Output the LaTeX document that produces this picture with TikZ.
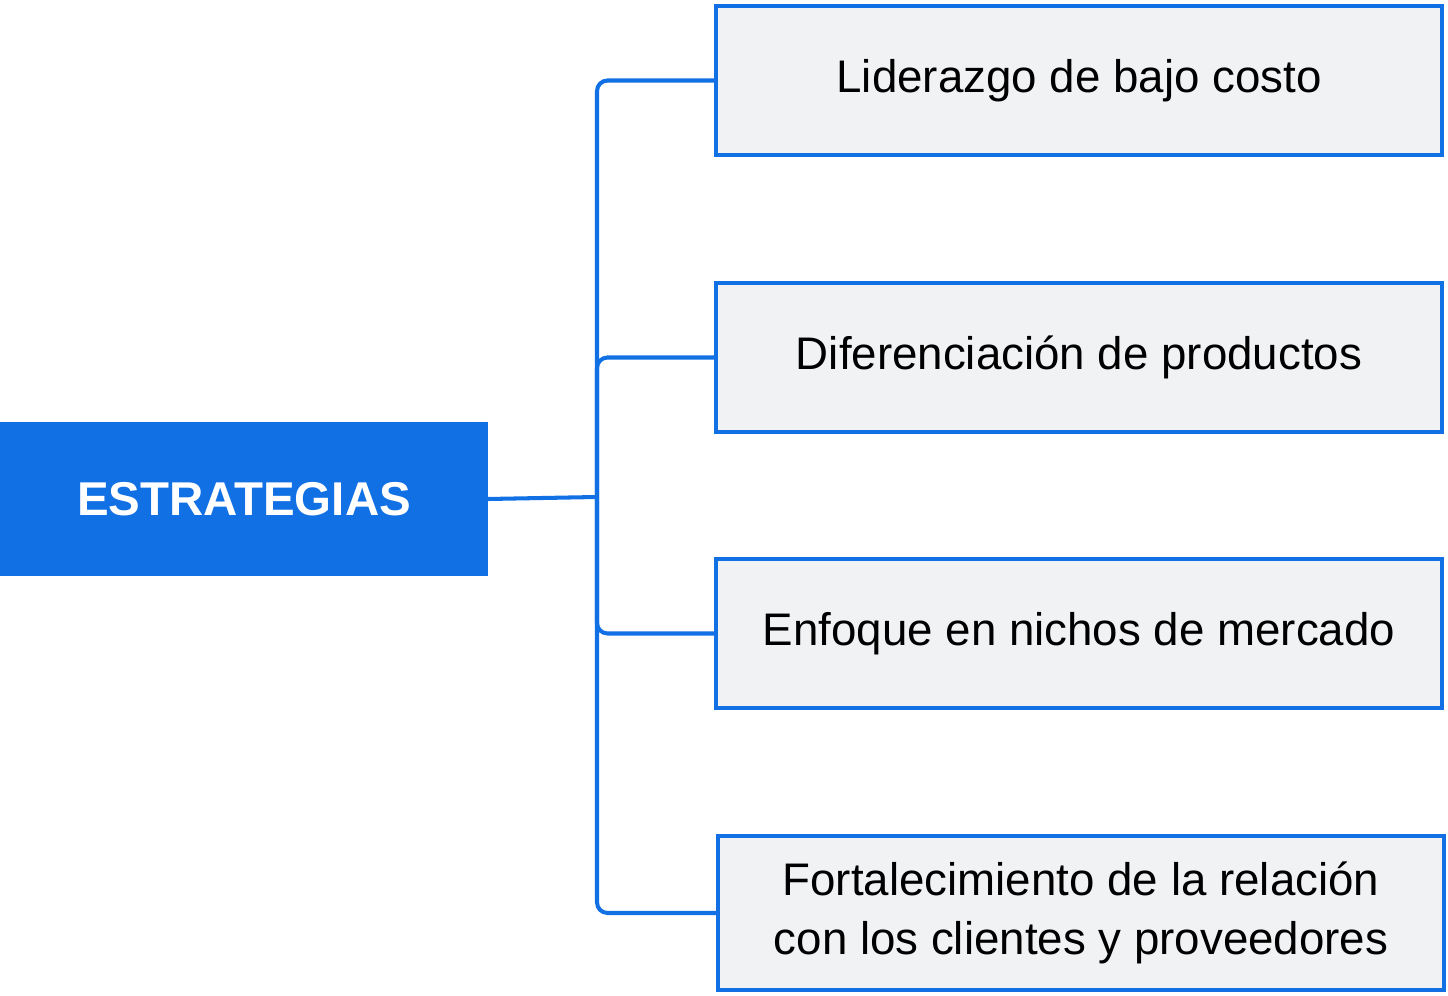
\documentclass[tikz,border=0pt]{standalone}
\usepackage{fontspec}
\setmainfont{Liberation Sans}
\usetikzlibrary{positioning}
\definecolor{mainblue}{HTML}{1170E4}
\definecolor{boxgray}{HTML}{F1F2F4}
\tikzset{
  root/.style={rectangle,fill=mainblue,text=white,font=\fontsize{27}{32}\selectfont\bfseries,minimum width=9.76cm,minimum height=3.08cm,outer sep=0pt},
  leaf/.style={rectangle,draw=mainblue,line width=2.3pt,fill=boxgray,font=\fontsize{26}{34}\selectfont,minimum width=14.52cm,minimum height=2.98cm,align=center,outer sep=0pt},
  conn/.style={draw=mainblue,line width=2.3pt,rounded corners=6pt}
}
\begin{document}
\begin{tikzpicture}[x=0.02cm,y=-0.02cm]
\useasboundingbox (0,0) rectangle (1448,996);
\node at (244,499)[root](estr){ESTRATEGIAS};
\node at (1079,80.5)[leaf](lid){Liderazgo de bajo costo};
\node at (1079,357.5)[leaf](dif){Diferenciación de productos};
\node at (1079,633.5)[leaf](enf){Enfoque en nichos de mercado};
\node at (1081,913)[leaf,minimum height=3.08cm](fort){Fortalecimiento de la relación\\con los clientes y proveedores};
\coordinate (bus) at (597,497);
\draw[conn] (estr.east) -- (bus);
\draw[conn] (bus) |- (lid.west);
\draw[conn] (bus) |- (dif.west);
\draw[conn] (bus) |- (enf.west);
\draw[conn] (bus) |- (fort.west);
\end{tikzpicture}
\end{document}
